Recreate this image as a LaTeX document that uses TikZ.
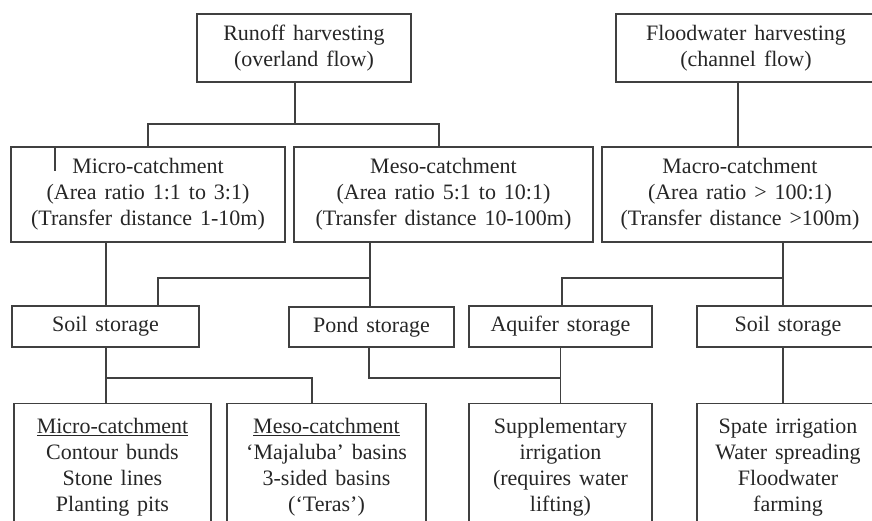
\documentclass[tikz,border=0pt]{standalone}
\usepackage{fontspec}
\setmainfont{Liberation Serif}
\usepackage{tikz}
\newcommand{\boxfont}{\fontsize{22}{26}\selectfont\spaceskip=0.36em plus 0.1em\relax}

\begin{document}
\begin{tikzpicture}[x=1pt, y=-1pt,
    box/.style={draw=black!75, line width=1.2pt, text=black!85, align=center,
      font=\boxfont, inner sep=0pt},
    listbox/.style={box, anchor=north, inner ysep=15pt},
    link/.style={draw=black!75, line width=1.3pt}]
  \useasboundingbox (0,0) rectangle (872,521);
  \clip (0,0) rectangle (872,521);
  % first level
  \node [box, minimum width=214pt, minimum height=68pt] (runoff) at (304,48) {Runoff harvesting\\(overland flow)};
  \node [box, minimum width=260pt, minimum height=68pt] (flood) at (746,48) {Floodwater harvesting\\(channel flow)};
  % catchments
  \node [box, minimum width=274pt, minimum height=95pt] (micro) at (148,194.5) {Micro-catchment\\(Area ratio 1:1 to 3:1)\\(Transfer distance 1-10m)};
  \node [box, minimum width=299pt, minimum height=95pt] (meso) at (443.5,194.5) {Meso-catchment\\(Area ratio 5:1 to 10:1)\\(Transfer distance 10-100m)};
  \node [box, minimum width=276pt, minimum height=95pt] (macro) at (740,194.5) {Macro-catchment\\(Area ratio > 100:1)\\(Transfer distance >100m)};
  % storage
  \node [box, minimum width=187pt, minimum height=41pt] (soil1) at (105.5,326.5) {Soil storage};
  \node [box, minimum width=165pt, minimum height=40pt] (pond) at (371.5,327) {Pond storage};
  \node [box, minimum width=183pt, minimum height=41pt] (aquifer) at (560.5,326.5) {Aquifer storage};
  \node [box, minimum width=182pt, minimum height=41pt] (soil2) at (788,326.5) {Soil storage};
  % techniques
  \node [listbox, minimum width=197pt] (microlist) at (112.5,403) {\underline{Micro-catchment}\\Contour bunds\\Stone lines\\Planting pits};
  \node [listbox, minimum width=199pt] (mesolist) at (326.5,403) {\underline{Meso-catchment}\\‘Majaluba’ basins\\3-sided basins\\(‘Teras’)};
  \node [listbox, minimum width=183pt] (supply) at (560.5,403) {Supplementary\\irrigation\\(requires water\\lifting)};
  \node [listbox, minimum width=182pt] (spate) at (788,403) {Spate irrigation\\Water spreading\\Floodwater\\farming};

  % connectors
  \coordinate (split1) at (295,124);
  \draw [link] (split1 |- runoff.south) -- (split1);
  \draw [link] (micro.north) |- (split1) -| ([xshift=-4.5pt]meso.north);
  \draw [link] ([xshift=-93pt]micro.north) -- ++(0,25);
  \draw [link] ([xshift=-8pt]flood.south) -- ([xshift=-8pt]flood.south |- macro.north);

  \coordinate (split3) at (370,278);
  \draw [link] ([xshift=0.5pt]soil1.north |- micro.south) -- ([xshift=0.5pt]soil1.north);
  \draw [link] (split3 |- meso.south) -- (split3 |- pond.north);
  \draw [link] ([xshift=52.5pt]soil1.north) |- (split3);
  \coordinate (split4) at (783,278);
  \draw [link] (split4 |- macro.south) -- (split4 |- soil2.north);
  \draw [link] (split4) -| ([xshift=1.5pt]aquifer.north);

  \coordinate (split5) at (106,378);
  \draw [link] (split5 |- soil1.south) -- (split5 |- microlist.north);
  \draw [link] (split5) -| ([xshift=-14.5pt]mesolist.north);
  \coordinate (split6) at (561,378);
  \draw [link] (aquifer.south) -- (supply.north);
  \draw [link] ([xshift=-2.5pt]pond.south) |- (split6);
  \draw [link] (split4 |- soil2.south) -- (split4 |- spate.north);
\end{tikzpicture}
\end{document}
